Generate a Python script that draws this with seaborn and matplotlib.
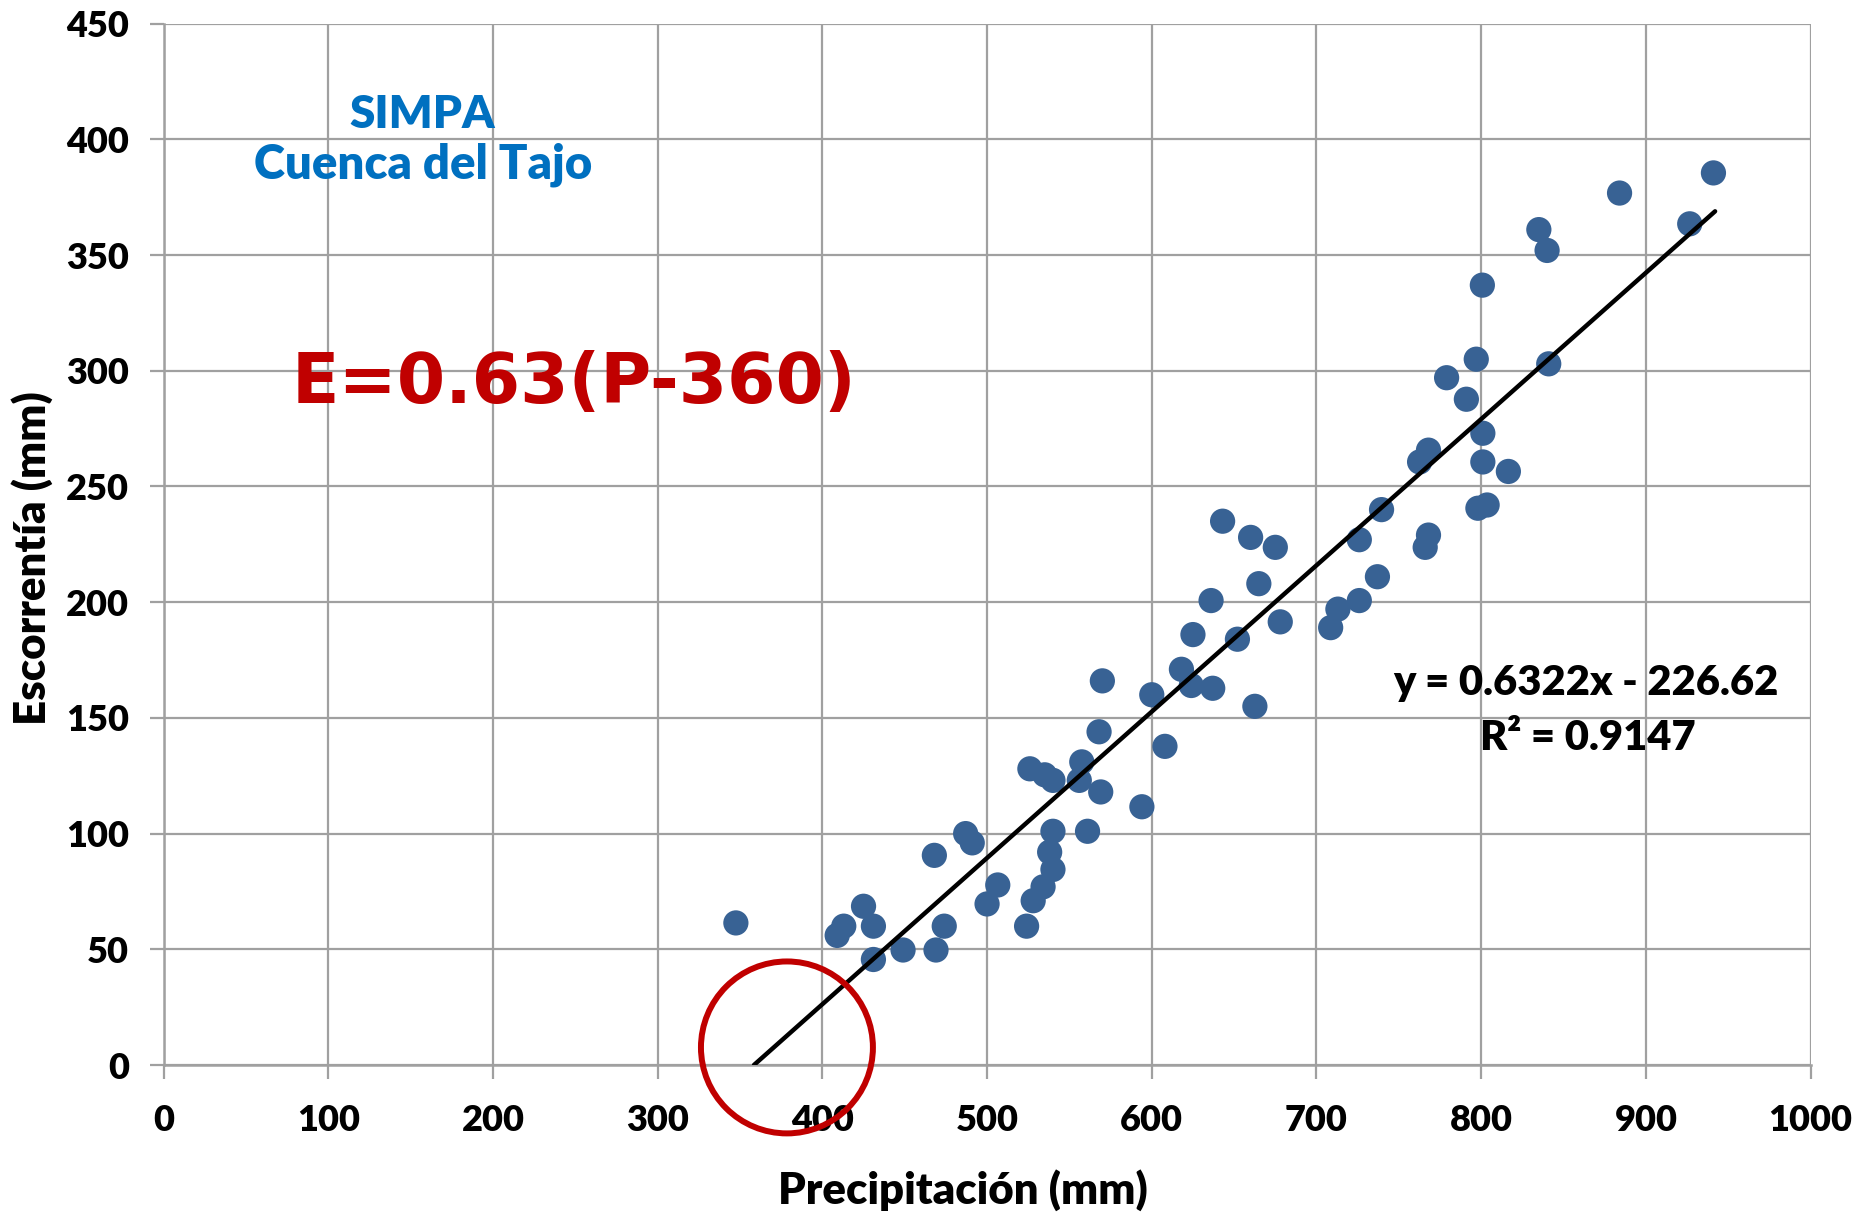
import matplotlib
matplotlib.use("Agg")
import matplotlib.pyplot as plt
from matplotlib.patches import Ellipse
import seaborn as sns
import pandas as pd
import numpy as np

# ---- data ----
precip = [347.5, 409, 413, 425, 431, 431, 449, 469, 474, 468,
          487, 491, 500, 506.5, 524, 528, 534, 540, 538, 540,
          526, 535, 540, 556, 557.5, 561, 569, 568, 570, 594,
          600, 608, 618, 624, 625, 636, 637, 643, 652, 660,
          662.6, 665, 675, 678, 708.6, 713, 726, 726, 737, 739.5,
          762.6, 768, 768, 766, 779, 791, 797, 800.7, 801, 801,
          798, 803.6, 816.5, 835, 840, 841, 884, 926.6, 941]
escorr = [61.4, 56, 60, 68.6, 60, 45.6, 49.7, 49.7, 60, 90.6,
          100, 96, 69.6, 77.8, 60, 71, 77, 84.5, 92, 101,
          128, 125.4, 123, 123, 131, 101, 118, 144, 166, 111.6,
          160, 137.7, 171, 164, 186, 200.7, 162.8, 235, 184, 228,
          155, 208, 223.7, 191.5, 189, 197, 200.7, 227, 211, 240,
          260.6, 265.7, 229, 223.7, 297, 287.7, 305, 337, 273, 260.6,
          240.6, 242, 256.5, 361, 352, 303, 376.8, 363.5, 385.5]

slope = 0.6322
intercept = -226.62
trend_x = [358.5, 942.0]

x_ticks = list(range(0, 1001, 100))
y_ticks = list(range(0, 451, 50))

df = pd.DataFrame({"P": precip, "E": escorr})
trend_df = pd.DataFrame({"P": trend_x, "E": [slope * v + intercept for v in trend_x]})

sns.set_theme(style="white")
plt.rcParams["font.family"] = ["Lato", "DejaVu Sans"]

W = "heavy"

fig = plt.figure(figsize=(18.58, 12.13), dpi=100)
ax = fig.add_axes([0.088, 0.122, 0.8865, 0.8585])

grid_c = "#A0A0A0"
ax.set_xlim(0, 1000)
ax.set_ylim(0, 450)
ax.set_xticks(x_ticks)
ax.set_yticks(y_ticks)
ax.grid(True, color=grid_c, linewidth=1.6)
ax.set_axisbelow(True)
for s in ["top", "right"]:
    ax.spines[s].set_visible(False)
for s in ["left", "bottom"]:
    ax.spines[s].set_color(grid_c)
    ax.spines[s].set_linewidth(1.8)

sns.scatterplot(data=df, x="P", y="E", ax=ax, s=330, color="#386294",
                edgecolor="none", zorder=3)
sns.lineplot(data=trend_df, x="P", y="E", ax=ax, color="black",
             linewidth=3.2, zorder=4)

ax.tick_params(axis="both", which="both", length=10, width=1.6, color=grid_c,
               labelsize=26, labelcolor="black", bottom=True, left=True)
ax.tick_params(axis="x", pad=18)
ax.tick_params(axis="y", pad=15)
for lab in ax.get_xticklabels() + ax.get_yticklabels():
    lab.set_fontweight(W)

ax.set_xlabel("Precipitación (mm)", fontsize=31.5, fontweight=W,
              color="black", labelpad=23)
ax.set_ylabel("Escorrentía (mm)", fontsize=31.5, fontweight=W,
              color="black", labelpad=9)
ax.xaxis.label.set_x(0.4856)
ax.yaxis.label.set_y(0.487)

# annotations
ax.text(157, 405, "SIMPA", color="#0070C0", fontsize=33, fontweight=W,
        ha="center", va="baseline")
ax.text(157.5, 383.3, "Cuenca del Tajo", color="#0070C0", fontsize=34,
        fontweight=W, ha="center", va="baseline")
ax.text(249, 286, "E=0.63(P-360)", color="#C00000", fontsize=50,
        fontweight="bold", ha="center", va="baseline",
        family=["DejaVu Sans"])
ax.text(863.3, 159.9, "y = 0.6322x - 226.62", color="black", fontsize=30,
        fontweight=W, ha="center", va="baseline")
ax.text(864.5, 136.1, "R² = 0.9147", color="black", fontsize=30,
        fontweight=W, ha="center", va="baseline")

circ = Ellipse((378.5, 7.6), width=104.4, height=74.3, fill=False,
               edgecolor="#C00000", linewidth=4.3, zorder=5, clip_on=False)
ax.add_patch(circ)

fig.savefig("out.png", dpi=100)
